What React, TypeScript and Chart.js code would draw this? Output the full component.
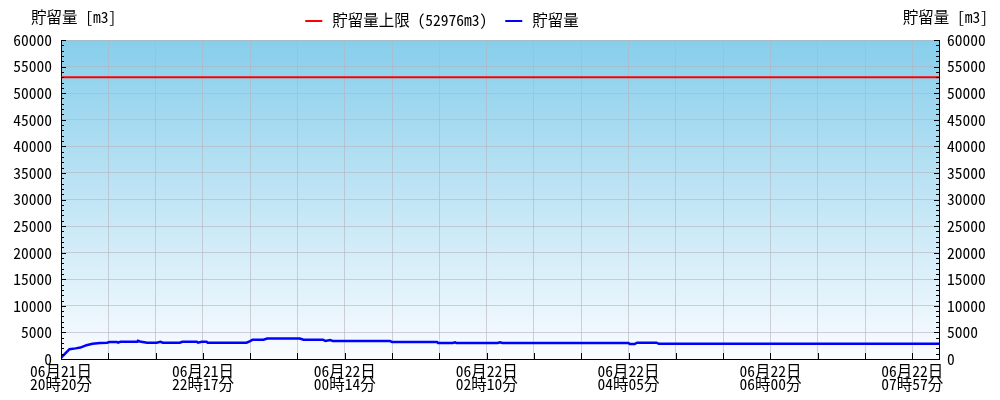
import React, { useEffect, useRef } from 'react';
import { Chart, registerables } from 'chart.js';

Chart.register(...registerables);

const FONT = "'Noto Sans Mono CJK JP', 'DejaVu Sans Mono', monospace";
const FONT_SIZE = 15.5;
const GRID_COLOR = 'rgba(180,180,190,0.6)';

// ---- data ----
const limitLabel = '貯留量上限 (52976m3)';
const storageLabel = '貯留量';
const axisTitle = '貯留量 [m3]';
const limitValue = 52976;

// sample index (minutes from 06/21 20:20) and storage volume [m3]
const sampleIndex = [
  0, 2, 5, 7, 12, 16, 21, 26, 32, 38, 40, 46, 47, 49, 63, 63.5, 65, 71, 79, 82, 84,
  98, 100, 112, 113, 116, 120, 121, 153, 156, 158, 167, 170, 197, 200, 216, 218,
  222, 224, 271, 273, 310, 311, 323, 325, 326, 360, 362, 364, 468, 469, 473, 475,
  491, 493, 724,
];
const storageValues = [
  200, 700, 1400, 1850, 2000, 2150, 2600, 2850, 3000, 3070, 3200, 3200, 3070, 3250, 3250, 3440, 3300, 3070, 3070, 3250, 3070,
  3070, 3250, 3250, 3070, 3250, 3250, 3070, 3070, 3350, 3630, 3630, 3850, 3850, 3630, 3630, 3400,
  3550, 3400, 3400, 3200, 3200, 3000, 3000, 3150, 3000, 3000, 3150, 3000, 3000, 2820, 2820, 3070,
  3070, 2850, 2850,
];

const tickDates = ['06月21日', '06月21日', '06月22日', '06月22日', '06月22日', '06月22日', '06月22日'];
const tickTimes = ['20時20分', '22時17分', '00時14分', '02時10分', '04時05分', '06時00分', '07時57分'];

const X_MAX = 724;
const GRID_EVERY = 39;
const LABEL_EVERY = 117;
const Y_MIN = 0;
const Y_MAX = 60000;
const Y_STEP = 5000;
const Y_MINOR = 1000;

const decorPlugin = {
  id: 'decor',
  beforeDraw(chart: any) {
    const { ctx, chartArea: a } = chart;
    ctx.save();
    const g = ctx.createLinearGradient(0, a.top, 0, a.bottom);
    g.addColorStop(0, '#87ceeb');
    g.addColorStop(1, '#fafcff');
    ctx.fillStyle = g;
    ctx.fillRect(a.left, a.top, a.right - a.left, a.bottom - a.top);
    ctx.restore();
  },
  afterDraw(chart: any) {
    const { ctx, chartArea: a, scales } = chart;
    const ys = scales.y;
    const xs = scales.x;
    ctx.save();
    ctx.strokeStyle = '#000';
    ctx.lineWidth = 1;
    ctx.beginPath();
    for (let v = Y_MIN; v <= Y_MAX; v += Y_MINOR) {
      const py = Math.round(ys.getPixelForValue(v)) + 0.5;
      const len = v % Y_STEP === 0 ? 5 : 3;
      ctx.moveTo(a.left, py);
      ctx.lineTo(a.left + len, py);
      ctx.moveTo(a.right, py);
      ctx.lineTo(a.right - len, py);
    }
    xs.ticks.forEach((t: any) => {
      const px = Math.round(xs.getPixelForValue(t.value)) + 0.5;
      ctx.moveTo(px, a.bottom);
      ctx.lineTo(px, a.bottom - 6);
    });
    ctx.stroke();

    // axis titles
    ctx.font = `${FONT_SIZE}px ${FONT}`;
    ctx.fillStyle = '#000';
    ctx.textBaseline = 'middle';
    ctx.textAlign = 'left';
    ctx.fillText(axisTitle, 31, 17);
    ctx.textAlign = 'right';
    ctx.fillText(axisTitle, 988, 17);

    // legend
    const items = chart.data.datasets.map((ds: any) => ({ label: ds.label, color: ds.borderColor }));
    const boxW = 17;
    const textGap = 10;
    const itemGap = 18;
    const widths = items.map((it: any) => boxW + textGap + ctx.measureText(it.label).width);
    const total = widths.reduce((s: number, w: number) => s + w, 0) + itemGap * (items.length - 1);
    let x = 442 - total / 2;
    ctx.textAlign = 'left';
    items.forEach((it: any, i: number) => {
      ctx.strokeStyle = it.color;
      ctx.lineWidth = 2;
      ctx.beginPath();
      ctx.moveTo(x, 21);
      ctx.lineTo(x + boxW, 21);
      ctx.stroke();
      ctx.fillStyle = '#000';
      ctx.fillText(it.label, x + boxW + textGap, 20);
      x += widths[i] + itemGap;
    });
    ctx.restore();
  },
};

export default function App() {
  const ref = useRef<HTMLCanvasElement | null>(null);
  useEffect(() => {
    if (!ref.current) return;
    const storageData = sampleIndex.map((ix, i) => ({ x: ix, y: storageValues[i] }));
    const limitData = [
      { x: 0, y: limitValue },
      { x: X_MAX, y: limitValue },
    ];
    const tickFont = { family: FONT, size: FONT_SIZE };
    const yAxis = (position: 'left' | 'right', grid: boolean) => ({
      type: 'linear' as const,
      position,
      min: Y_MIN,
      max: Y_MAX,
      afterFit: (s: any) => {
        s.width = 61;
      },
      ticks: {
        stepSize: Y_STEP,
        color: '#000',
        font: tickFont,
        padding: position === 'left' ? 9 : 8,
        callback: (v: any) => String(v),
      },
      grid: {
        display: true,
        drawOnChartArea: grid,
        drawTicks: false,
        color: GRID_COLOR,
      },
      border: { display: true, color: '#000', width: 1 },
    });
    const chart = new Chart(ref.current, {
      type: 'line',
      data: {
        datasets: [
          {
            label: limitLabel,
            data: limitData,
            borderColor: '#ff0000',
            backgroundColor: '#ff0000',
            borderWidth: 2,
            pointRadius: 0,
            yAxisID: 'y',
          },
          {
            label: storageLabel,
            data: storageData,
            borderColor: '#0000ff',
            backgroundColor: '#0000ff',
            borderWidth: 2.5,
            pointRadius: 0,
            yAxisID: 'y',
          },
        ],
      },
      options: {
        animation: false,
        responsive: false,
        layout: { padding: { top: 40, left: 0, right: 0, bottom: 0 } },
        plugins: { legend: { display: false }, tooltip: { enabled: false } },
        scales: {
          x: {
            type: 'linear',
            min: 0,
            max: X_MAX,
            afterFit: (s: any) => {
              s.height = 41;
            },
            ticks: {
              stepSize: GRID_EVERY,
              includeBounds: false,
              autoSkip: false,
              maxRotation: 0,
              minRotation: 0,
              padding: 5,
              color: '#000',
              font: { family: FONT, size: FONT_SIZE, lineHeight: 0.87 },
              callback: (v: any) => {
                const n = Number(v);
                if (n % LABEL_EVERY !== 0) return '';
                const k = n / LABEL_EVERY;
                return [tickDates[k], tickTimes[k]];
              },
            },
            grid: { drawTicks: false, color: GRID_COLOR },
            border: { display: true, color: '#000', width: 1 },
          },
          y: yAxis('left', true),
          y1: yAxis('right', false),
        },
      },
      plugins: [decorPlugin],
    });
    return () => chart.destroy();
  }, []);
  return (
    <div style={{ position: 'fixed', left: 0, top: 0, width: 1000, height: 400, background: '#fff' }}>
      <canvas ref={ref} width={1000} height={400} style={{ display: 'block' }} />
    </div>
  );
}
